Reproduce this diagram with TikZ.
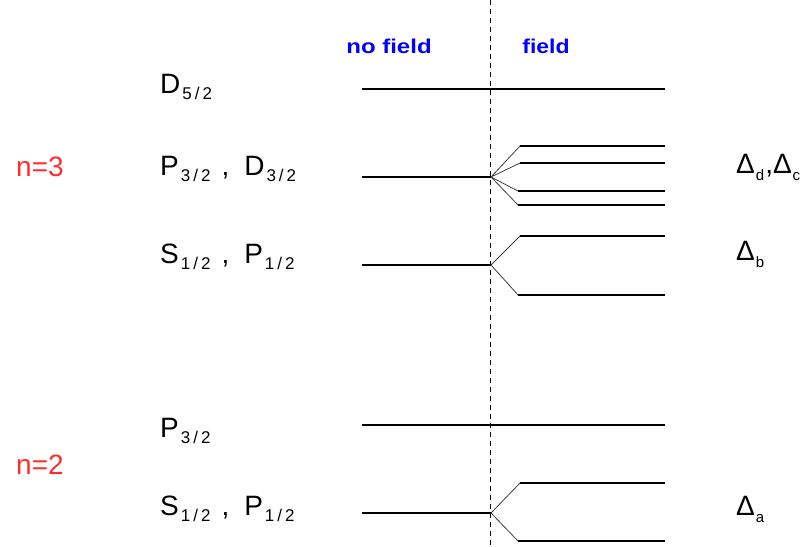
\documentclass[tikz,border=0pt]{standalone}
\usepackage{fontspec}
\setmainfont{Liberation Sans}
\definecolor{nred}{RGB}{255,45,45}
\definecolor{fblue}{RGB}{0,0,255}
\newcommand{\lv}[3]{#1\kern2pt\raisebox{-6pt}{\fontsize{17}{17}\selectfont #2\kern3pt/\kern3pt#3}}
\newcommand{\dl}[1]{\char"0394\kern1pt\raisebox{-7pt}{\fontsize{15}{15}\selectfont #1}}
\newcommand{\sep}{\hspace{11pt},\hspace{15pt}}
\tikzset{
  lbl/.style={font=\fontsize{28}{30}\selectfont, anchor=base west, inner sep=0pt},
  nlbl/.style={font=\fontsize{28}{30}\selectfont, anchor=base west, inner sep=0pt, text=nred},
  flbl/.style={font=\fontsize{20}{22}\selectfont\bfseries, anchor=base, inner sep=0pt, text=fblue},
  lvl/.style={line width=1.1pt, black},
  fan/.style={line width=0.8pt, black!75},
  divider/.style={line width=1pt, dash pattern=on 5pt off 4pt}
}
\begin{document}
\begin{tikzpicture}[x=1pt,y=-1pt]
\useasboundingbox (0,0) rectangle (805,546);
% divider
\coordinate (dtop) at (490.5,0);
\coordinate (dbot) at (490.5,546);
\draw[divider] (dtop) -- (dbot);
% headers
\node[flbl] (nofield) at (389,53) {\scalebox{1.2}[1]{no field}};
\node[flbl] (field) at (546,53) {\scalebox{1.15}[1]{field}};
% n labels
\node[nlbl] (n3) at (16,176) {n=3};
\node[nlbl] (n2) at (16,474) {n=2};
% state labels
\node[lbl] (d52) at (160,93) {\lv{D}{5}{2}};
\node[lbl] (p32d32) at (160,175) {\lv{P}{3}{2}\sep\lv{D}{3}{2}};
\node[lbl] (s12p12a) at (160,263) {\lv{S}{1}{2}\sep\lv{P}{1}{2}};
\node[lbl] (p32) at (160,437) {\lv{P}{3}{2}};
\node[lbl] (s12p12b) at (160,515) {\lv{S}{1}{2}\sep\lv{P}{1}{2}};
% delta labels
\node[lbl] (ddc) at (736,173) {\dl{d}\kern1pt,\dl{c}};
\node[lbl] (db) at (736,260) {\dl{b}};
\node[lbl] (da) at (736,515) {\dl{a}};
% D5/2 level
\coordinate (a1) at (362,89);
\coordinate (a2) at (665,89);
\draw[lvl] (a1) -- (a2);
% P3/2, D3/2 level (n=3)
\coordinate (b0) at (362,177);
\coordinate (bo) at (491,177);
\coordinate (b1) at (520,146);
\coordinate (b2) at (520,163);
\coordinate (b3) at (518,191);
\coordinate (b4) at (518,205);
\coordinate (b1e) at (665,146);
\coordinate (b2e) at (665,163);
\coordinate (b3e) at (665,191);
\coordinate (b4e) at (665,205);
\draw[lvl] (b0) -- (bo);
\draw[fan] (bo) -- (b1) (bo) -- (b2) (bo) -- (b3) (bo) -- (b4);
\draw[lvl] (b1) -- (b1e) (b2) -- (b2e) (b3) -- (b3e) (b4) -- (b4e);
% S1/2, P1/2 level (n=3)
\coordinate (c0) at (362,265);
\coordinate (co) at (491,265);
\coordinate (c1) at (520,236);
\coordinate (c2) at (518,295);
\coordinate (c1e) at (665,236);
\coordinate (c2e) at (665,295);
\draw[lvl] (c0) -- (co);
\draw[fan] (co) -- (c1) (co) -- (c2);
\draw[lvl] (c1) -- (c1e) (c2) -- (c2e);
% P3/2 level (n=2)
\coordinate (e1) at (362,425);
\coordinate (e2) at (665,425);
\draw[lvl] (e1) -- (e2);
% S1/2, P1/2 level (n=2)
\coordinate (f0) at (362,513);
\coordinate (fo) at (491,513);
\coordinate (f1) at (520,483);
\coordinate (f2) at (518,541);
\coordinate (f1e) at (665,483);
\coordinate (f2e) at (665,541);
\draw[lvl] (f0) -- (fo);
\draw[fan] (fo) -- (f1) (fo) -- (f2);
\draw[lvl] (f1) -- (f1e) (f2) -- (f2e);
\end{tikzpicture}
\end{document}
